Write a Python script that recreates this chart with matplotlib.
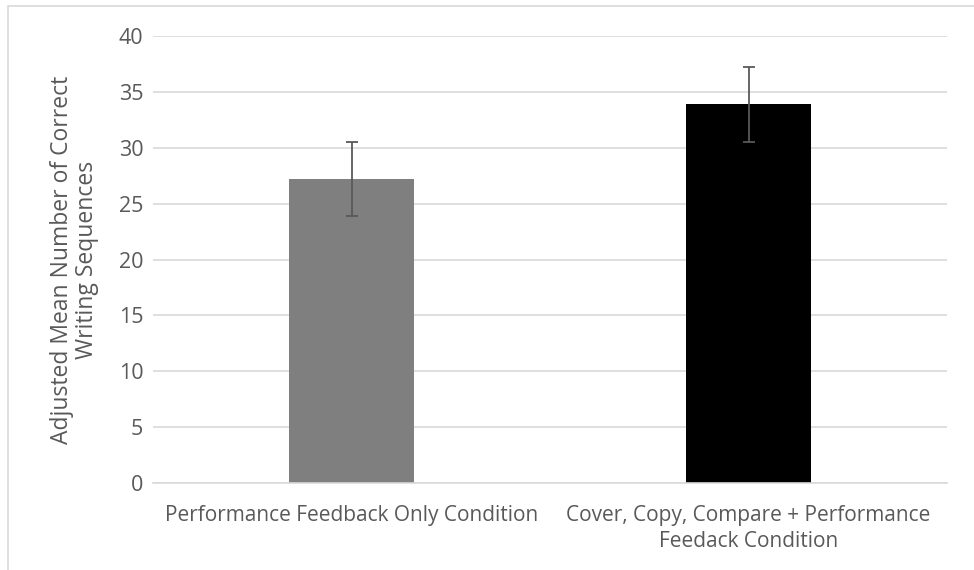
import matplotlib
matplotlib.use("Agg")
import matplotlib.pyplot as plt
from matplotlib.patches import Rectangle

categories = ["Performance Feedback Only Condition",
              "Cover, Copy, Compare + Performance\nFeedack Condition"]
means = [27.2, 33.9]
errors = [3.35, 3.35]
colors = ["#7f7f7f", "#000000"]
yticks = [0, 5, 10, 15, 20, 25, 30, 35, 40]
ylabel = "Adjusted Mean Number of Correct\nWriting Sequences"

plt.rcParams['font.family'] = ['Open Sans', 'DejaVu Sans']

fig = plt.figure(figsize=(9.74, 5.70), dpi=100)
ax = fig.add_axes([153/974, 87/570, 794/974, 447/570])

x = list(range(len(categories)))
ax.bar(x, means, width=0.315, color=colors, zorder=2)
ax.errorbar(x, means, yerr=errors, fmt='none', ecolor='#595959',
            elinewidth=1.3, capsize=4.5, capthick=1.3, zorder=3)

ax.set_xlim(-0.5, 1.5)
ax.set_ylim(0, 40)
ax.set_yticks(yticks)
ax.set_xticks(x)
ax.set_xticklabels(categories, fontsize=15, color='#595959', linespacing=1.3)
ax.tick_params(axis='y', labelsize=15.5, colors='#595959', length=0, pad=7)
ax.tick_params(axis='x', length=0, pad=16)
ax.grid(axis='y', color='#d9d9d9', linewidth=1.2, zorder=0)
ax.set_axisbelow(True)
for s in ['top', 'right', 'left']:
    ax.spines[s].set_visible(False)
ax.spines['bottom'].set_color('#d9d9d9')
ax.spines['bottom'].set_linewidth(1.2)
ax.set_ylabel(ylabel, fontsize=16.5, color='#595959', linespacing=1.05)
ax.yaxis.set_label_coords(-0.068, 0.5)

fig.patches.append(Rectangle((8/974, -0.1), 1.1, (570-6)/570 + 0.1,
                             transform=fig.transFigure, fill=False,
                             edgecolor='#d9d9d9', linewidth=1.2))

fig.savefig("out.png", dpi=100)
